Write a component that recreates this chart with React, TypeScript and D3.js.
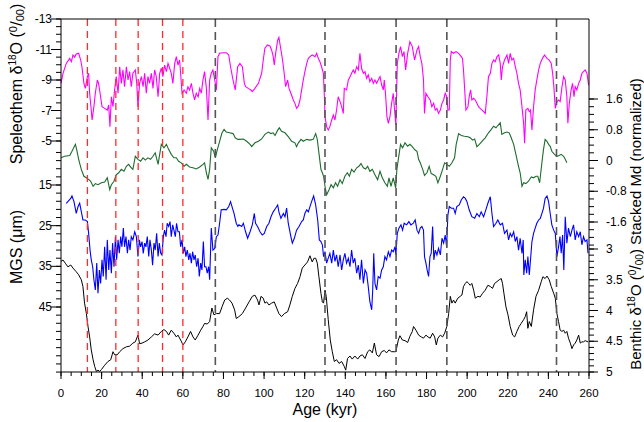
import React from 'react';
import * as d3 from 'd3';

// Age (kyr), value pairs
const speleothem: [number, number][] = [
  [0, -8.78], [1, -9.44], [2.6, -10.09], [4.3, -10.42], [5.1, -10.2], [5.9, -10.64], [6.7, -10.5], [7.5, -10.7], [8.7, -10.75],
  [9.7, -10.31], [10.3, -9.87], [11.3, -8.78], [12, -8.45], [13, -9.22], [13.6, -9.44], [14.1, -8.13], [14.9, -7.03],
  [15.3, -6.38], [16.2, -7.25], [16.9, -8.13], [17.9, -9.0], [18.5, -8.78], [19.5, -7.9], [20.2, -7.25], [21.5, -7.14],
  [22.8, -7.03], [23.5, -7.36], [24.1, -5.94], [24.8, -7.9], [25.6, -7.25], [26.4, -8.35], [27.2, -9.22], [28.1, -8.13],
  [28.9, -9.87], [29.7, -8.78], [30.5, -9.66], [31.3, -8.56], [32.2, -9.87], [33, -9.0], [33.8, -9.55], [34.6, -8.56],
  [35.4, -9.44], [36.6, -9.66], [37.3, -8.78], [37.9, -7.25], [38.7, -8.78], [39.6, -9.22], [40.4, -8.56], [41.2, -9.44],
  [42, -8.13], [42.8, -9.22], [43.6, -8.78], [44.5, -9.44], [45.3, -8.45], [46.1, -9.66], [46.9, -9.22], [47.8, -7.9],
  [48.6, -9.44], [49.4, -9.77], [50.2, -9.22], [51, -9.98], [51.9, -9.55], [52.7, -10.09], [53.5, -9.77], [54.3, -9.44],
  [55.1, -8.78], [56, -10.09], [56.8, -10.53], [57.6, -9.98], [58.4, -10.31], [58.9, -9.44], [59.6, -8.13], [60.6, -8.35],
  [61.7, -8.13], [62.5, -8.56], [63.3, -8.35], [64.2, -8.78], [65, -8.13], [65.8, -7.69], [66.6, -8.13], [67.5, -7.9],
  [68.3, -8.45], [69.1, -8.13], [69.9, -9.0], [70.7, -9.55], [71.6, -8.45], [72.4, -6.38], [73.2, -9.0], [74, -9.44],
  [74.8, -9.66], [75.7, -9.0], [76.5, -8.35], [77.3, -10.53], [78.1, -10.75], [79.8, -10.79], [81.4, -10.79], [82.6, -10.64],
  [83.5, -9.87], [84.7, -9.0], [85.8, -8.35], [87, -9.87], [88.1, -10.09], [89.3, -9.87], [90.3, -8.78], [90.9, -8.56],
  [92.2, -8.45], [93.5, -8.35], [94.2, -8.24], [95.5, -8.45], [97.2, -8.78], [98.8, -9.44], [99.6, -10.31], [100.4, -11.08],
  [101.6, -11.3], [102.9, -11.23], [103.7, -10.97], [104.5, -10.53], [105, -9.98], [105.7, -10.75], [106.7, -11.62],
  [107.3, -11.8], [108.3, -10.97], [109.1, -10.31], [109.9, -9.44], [110.6, -8.56], [111.6, -9.0], [112.3, -8.45],
  [113.2, -8.13], [114.4, -7.69], [115.2, -7.47], [116, -7.14], [116.9, -7.3], [117.7, -7.69], [118.5, -8.35], [119.3, -9.0],
  [120.1, -9.55], [121, -10.09], [121.8, -10.42], [122.6, -10.53], [123.7, -10.64], [125.1, -10.53], [125.9, -10.75],
  [126.7, -10.42], [127.5, -10.2], [128.3, -9.87], [129.2, -9.44], [129.7, -7.9], [130, -6.6], [130.8, -5.94], [131.6, -5.72],
  [132.4, -5.94], [133.3, -6.38], [134.1, -6.7], [134.9, -6.38], [135.7, -7.03], [136.5, -7.9], [137.4, -7.58], [138.2, -7.25],
  [139, -6.81], [139.5, -8.45], [140.6, -8.35], [141.5, -9.0], [142.3, -9.22], [143.1, -9.44], [143.9, -9.66], [144.7, -9.44],
  [145.6, -9.87], [146.4, -9.66], [147.2, -10.75], [148, -9.77], [148.9, -9.44], [149.7, -9.55], [150.5, -9.11], [151.3, -9.33],
  [152.1, -8.89], [153, -9.11], [153.8, -8.78], [154.6, -9.0], [155.4, -8.78], [156.2, -9.0], [157.1, -9.22], [157.9, -8.67],
  [158.7, -8.35], [159.2, -9.0], [159.9, -7.9], [160.5, -6.6], [161.2, -6.16], [162, -6.6], [162.8, -7.47], [163.6, -8.13],
  [164.4, -6.81], [164.9, -6.05], [165.6, -10.09], [166.4, -10.75], [167.2, -11.19], [168.1, -10.53], [168.9, -10.86],
  [169.7, -9.66], [170.7, -10.75], [171.8, -11.51], [173, -11.19], [174.1, -10.31], [175.3, -10.97], [176.1, -11.19],
  [176.9, -10.53], [177.7, -10.09], [178.5, -9.0], [179, -6.81], [179.7, -8.13], [180.7, -7.9], [181.8, -7.69], [182.6, -7.25],
  [183.5, -7.47], [184.3, -7.03], [185.1, -7.14], [185.9, -6.81], [186.8, -7.03], [187.6, -7.47], [188.4, -7.69], [189.2, -8.13],
  [190, -7.9], [190.5, -7.03], [191.2, -7.03], [191.7, -10.31], [192.2, -10.86], [193.3, -10.75], [194.5, -10.86],
  [195.8, -10.75], [197.1, -10.53], [197.7, -10.42], [198.2, -9.66], [198.7, -8.56], [199.4, -7.03], [200.4, -7.25],
  [201, -7.9], [201.7, -8.35], [202.3, -7.69], [203.2, -7.8], [204, -7.69], [204.8, -7.47], [205.6, -7.25], [206.4, -7.14],
  [207.3, -7.03], [208.1, -6.92], [208.9, -6.81], [209.7, -7.9], [210.5, -9.22], [211.4, -9.44], [212.2, -10.09], [213, -10.31],
  [213.8, -10.2], [214.7, -10.53], [215.5, -10.64], [216.3, -10.09], [216.8, -9.0], [217.4, -9.87], [218.4, -10.31],
  [219.6, -10.64], [220.4, -10.09], [221.2, -10.75], [222, -10.31], [222.9, -10.42], [223.7, -9.87], [224.5, -9.44],
  [225.3, -8.78], [226.1, -8.35], [227, -7.25], [227.8, -6.16], [228.3, -4.85], [228.9, -7.03], [229.9, -7.14], [230.6, -6.92],
  [231.2, -7.03], [231.9, -5.72], [232.7, -7.25], [233.5, -8.35], [234.3, -9.0], [235.2, -9.66], [236, -10.09], [237.1, -10.42],
  [238.1, -10.64], [239.3, -10.42], [240.4, -10.31], [241.4, -10.09], [242.1, -9.44], [242.7, -8.56], [243.4, -7.14],
  [244.2, -7.58], [245, -7.69], [245.8, -7.58], [246.7, -8.56], [247.5, -9.22], [248.3, -9.0], [249.1, -7.9], [249.6, -6.16],
  [250.3, -7.47], [251.2, -8.35], [251.9, -8.78], [252.6, -7.9], [253.2, -8.56], [254, -8.35], [254.9, -8.78], [255.7, -9.0],
  [256.5, -9.44], [257.3, -9.55], [258.1, -9.66], [259, -9.44], [259.8, -8.67],
];

const stackedMd: [number, number][] = [
  [0, 0.07], [1.8, 0.11], [4.3, 0.13], [5.4, 0.24], [7.1, 0.42], [7.7, 0.29], [8.7, 0.03], [10, -0.23], [11.3, -0.41],
  [12.5, -0.45], [13.6, -0.49], [14.6, -0.54], [15.8, -0.67], [16.9, -0.6], [18.2, -0.63], [19.9, -0.58], [21.5, -0.56],
  [22.8, -0.45], [24, -0.76], [24.8, -0.63], [26.1, -0.54], [27.2, -0.37], [28.4, -0.32], [29.7, -0.23], [31, -0.28],
  [32.2, -0.15], [33.3, -0.1], [34.3, -0.17], [35.4, -0.23], [36.6, 0.11], [37.9, 0.03], [39.2, -0.02], [40.4, 0.07],
  [41.5, 0.01], [42.8, 0.07], [44.1, 0.03], [45.3, 0.11], [46.4, 0.2], [47.8, -0.1], [48.6, 0.16], [49.4, 0.42], [50.7, 0.33],
  [51.9, 0.42], [53, 0.29], [54.3, 0.16], [55.6, 0.07], [56.8, 0.07], [57.9, -0.02], [59.2, -0.06], [60.6, -0.15],
  [61.7, -0.1], [63.3, -0.17], [65, -0.19], [66.6, -0.22], [68.3, -0.17], [69.9, -0.1], [70.7, -0.06], [71.6, -0.32],
  [72.4, -0.49], [73.2, -0.23], [74, 0.33], [75.2, 0.24], [76, 0.07], [77, 0.29], [78.1, 0.5], [79.3, 0.72], [80.3, 0.81],
  [81.4, 0.74], [83, 0.72], [84.7, 0.7], [85.8, 0.59], [87.1, 0.55], [88.1, 0.55], [89.8, 0.56], [91.4, 0.5], [93.1, 0.42],
  [93.9, 0.36], [95.5, 0.46], [97.2, 0.5], [98.8, 0.56], [100.4, 0.68], [102.1, 0.74], [103.4, 0.7], [104.5, 0.72],
  [105.4, 0.65], [106.7, 0.79], [107.5, 0.85], [108.6, 0.76], [110.3, 0.72], [111.9, 0.62], [113.6, 0.5], [115.2, 0.46],
  [116, 0.36], [116.9, 0.46], [118.2, 0.55], [119.3, 0.5], [121, 0.55], [122.6, 0.53], [124.2, 0.55], [125.4, 0.7],
  [126.2, 0.55], [127, 0.2], [128, -0.23], [128.7, -0.32], [129.3, -0.41], [130, -0.67], [130.8, -0.89], [132, -0.76],
  [133, -0.63], [134.1, -0.71], [135.2, -0.58], [136.2, -0.67], [137.4, -0.5], [138.5, -0.6], [139.8, -0.41], [141, -0.32],
  [142, -0.41], [143.1, -0.23], [144.3, -0.3], [145.6, -0.19], [146.7, -0.15], [147.7, -0.08], [148.9, -0.19], [150, -0.22],
  [151, -0.15], [152.1, -0.28], [153.3, -0.23], [154.6, -0.37], [155.9, -0.5], [157.1, -0.28], [158.2, -0.45], [159.5, -0.58],
  [160.7, -0.67], [161.5, -0.45], [162.5, -0.67], [163.6, -0.45], [164.8, -0.71], [165.4, -0.23], [166.1, 0.03], [167.2, 0.42],
  [168.2, 0.33], [169.4, 0.46], [170.7, 0.37], [171.8, 0.42], [173, 0.36], [174.2, 0.28], [175.3, 0.24], [176.1, 0.03],
  [176.9, -0.06], [178.1, -0.23], [179, -0.39], [180.2, -0.32], [181.3, -0.15], [182.3, -0.34], [183.5, -0.37], [184.6, -0.41],
  [185.6, -0.58], [186.8, -0.41], [187.9, -0.23], [188.9, -0.06], [190, -0.1], [191.2, -0.15], [192.5, -0.06], [193.8, 0.07],
  [194.6, 0.42], [195.8, 0.7], [197.1, 0.65], [198.7, 0.63], [200.4, 0.62], [201.5, 0.59], [202.7, 0.53], [203.7, 0.56],
  [204.8, 0.36], [206, 0.42], [207.3, 0.5], [208.9, 0.59], [210.5, 0.72], [211.9, 0.81], [213, 0.89], [214.2, 0.85],
  [215.1, 0.91], [216.3, 0.98], [217.1, 0.68], [218.4, 0.72], [219.6, 0.74], [220.7, 0.72], [221.7, 0.59], [222.9, 0.42],
  [224, 0.16], [225.3, -0.15], [226.1, -0.32], [227, -0.67], [227.8, -0.58], [228.9, -0.6], [230.2, -0.54], [231.6, -0.43],
  [232.7, -0.45], [233.9, -0.41], [234.8, -0.41], [235.7, -0.58], [236.8, -0.06], [237.6, 0.29], [238.4, 0.55], [239.3, 0.5],
  [240.1, 0.42], [240.9, 0.37], [241.7, 0.24], [243, 0.16], [244.2, 0.11], [245.3, 0.13], [246.3, 0.16], [247.5, 0.11],
  [248.3, 0.03], [249.1, -0.06],
];

const mgs: [number, number][] = [
  [2.6, 19.5], [3.8, 18.85], [4.8, 18.3], [5.4, 17.7], [6.4, 19.1], [7.5, 21.96], [8.4, 20.3], [9.2, 19.5], [10, 21.55],
  [10.8, 23.6], [12, 23.6], [13, 24], [13.6, 26.9], [14.3, 31], [14.9, 33.4], [15.6, 35.1], [16.2, 38.3], [16.9, 40.8],
  [17.6, 34.2], [18.2, 41.6], [18.9, 35.9], [19.5, 39.2], [20.2, 33.4], [20.8, 37.5], [21.5, 30.2], [22.2, 38.3], [22.8, 28.5],
  [23.5, 35.9], [24.1, 31], [24.8, 36.7], [25.4, 29.3], [26.1, 35.1], [26.8, 27.7], [27.4, 33.4], [28.1, 28.5], [28.7, 31.8],
  [29.4, 27.7], [30, 30.2], [30.7, 25.6], [31.3, 30.2], [32, 27.7], [32.7, 31.8], [33.3, 28.5], [34, 31], [34.6, 27.7],
  [35.4, 28.5], [36.3, 26.5], [37.1, 27.7], [37.9, 32.6], [38.6, 28.5], [39.2, 30.2], [39.9, 28.9], [40.5, 31.8], [41.2, 29.3],
  [41.8, 30.2], [42.5, 27.7], [43.2, 32.6], [43.8, 28.5], [44.5, 31], [45.1, 34.7], [45.8, 29.3], [46.4, 31], [47.1, 26.9],
  [47.8, 32.6], [48.4, 29.3], [49.1, 31.8], [49.7, 32.2], [50.4, 27.7], [51, 26.1], [51.7, 27.7], [52.3, 24.4], [53, 25.2],
  [53.7, 24], [54.3, 27.7], [55, 24.8], [55.6, 26.1], [56.3, 27.7], [56.9, 24.4], [57.6, 26.5], [58.3, 26.5], [58.9, 30.2],
  [59.6, 28.5], [60.2, 31.8], [60.9, 30.2], [61.5, 32.6], [62.2, 31], [62.9, 33.4], [63.5, 31.8], [64.2, 34.2], [64.8, 31.4],
  [65.5, 33.4], [66.1, 32.2], [66.8, 35.1], [67.5, 33], [68.1, 37.5], [68.8, 34.2], [69.4, 35.9], [70.1, 28.9], [70.7, 35.1],
  [71.4, 35.1], [72, 36.7], [72.7, 35.1], [73.2, 38.3], [74, 25.6], [74.8, 31], [75.7, 30.6], [76.5, 27.7], [77.3, 27.3],
  [78.1, 24.4], [78.9, 21.1], [80.3, 21], [81.4, 21.1], [82.6, 20.3], [83.5, 19.1], [84.2, 20.3], [85.2, 22], [86.3, 24.4],
  [87.1, 25.2], [87.6, 24.8], [89, 25.2], [89.8, 24.4], [90.9, 26.5], [91.9, 28.1], [93.1, 26.5], [94.2, 24.8], [95.2, 22],
  [95.8, 24.4], [96.8, 25.2], [98, 26.5], [99.1, 27.3], [100.1, 26.9], [101.3, 25.2], [102.4, 24.4], [103.4, 22.8],
  [104.5, 21.6], [105.7, 20.7], [106.7, 19.9], [107.3, 21.6], [108.3, 23.2], [109.5, 22], [110.3, 22.8], [111.1, 20.7],
  [111.9, 24.4], [113.2, 27.7], [113.9, 29.3], [114.9, 28.1], [116, 26.1], [117.2, 25.2], [118.5, 24], [119.3, 23.6],
  [120.1, 22], [121, 21.1], [121.8, 21.6], [122.6, 20.3], [123.4, 19.1], [124.4, 17.7], [125.4, 19.9], [126.4, 23.6],
  [127.2, 28.5], [128, 28.9], [128.7, 29.7], [129.3, 32.6], [130, 31.4], [130.8, 34.2], [131.6, 33], [132.4, 31.8],
  [133.3, 34.2], [134.1, 31], [134.9, 33.8], [135.7, 32.2], [136.5, 35.1], [137.4, 32.2], [138.2, 35.9], [139, 33.4],
  [139.8, 31.8], [140.6, 34.2], [141.5, 33], [142.3, 35.1], [143.1, 31], [143.9, 34.2], [144.7, 33], [145.6, 36.7],
  [146.4, 34.7], [147.2, 38.3], [148, 33.4], [148.9, 39.2], [149.7, 35.9], [150.5, 36.7], [151.3, 40], [152.1, 43.7],
  [153, 45.7], [153.5, 40.8], [154, 31.8], [154.6, 39.2], [155.4, 40.8], [156.2, 37.5], [157.1, 37.9], [157.9, 35.9],
  [158.7, 35.1], [159.5, 32.6], [160.3, 33.4], [161.2, 31.4], [162, 32.6], [162.8, 31], [163.6, 31.4], [164.5, 30.2],
  [164.9, 32.2], [165.6, 26.9], [166.4, 25.6], [167.4, 24.8], [168.2, 26.1], [169, 24.4], [170.2, 24.8], [171.3, 24],
  [172.3, 24.8], [173.5, 24.4], [174.4, 23.6], [175.3, 26.1], [176.1, 26.9], [176.9, 25.6], [177.7, 25.2], [178.5, 26.1],
  [179, 32.6], [179.7, 34.2], [180.3, 35.9], [181, 37.5], [181.7, 32.6], [182.3, 31.8], [183, 25.2], [183.6, 33.4], [184.3, 31],
  [185.1, 32.2], [185.9, 30.6], [186.8, 32.2], [187.6, 28.1], [188.4, 29.3], [189.2, 27.3], [189.9, 30.2], [190.5, 22.4],
  [191.2, 20.3], [192.2, 20.7], [193.3, 20.7], [194.1, 22], [194.9, 20.3], [196.1, 19.9], [197.1, 18.7], [198.2, 17.9],
  [199.1, 18.3], [199.9, 19.1], [201, 21.1], [202.3, 22.8], [203.7, 23.2], [204.8, 22], [206, 22.8], [206.9, 21.6],
  [208.1, 22.8], [209.2, 21.1], [210.2, 19.5], [211.4, 17.9], [212.2, 22], [213, 25.2], [214.2, 24.4], [215.1, 23.6],
  [216.3, 24.8], [217.4, 24.4], [218.4, 26.9], [219.6, 26.1], [220.4, 28.5], [221.2, 26.9], [222, 27.7], [222.9, 26.5],
  [223.7, 28.9], [224.5, 27.7], [225.3, 31], [226.1, 28.1], [227, 31.8], [227.6, 28.5], [227.9, 37.1], [228.6, 33.4],
  [229.3, 36.7], [229.9, 32.6], [230.6, 37.1], [231.2, 33.4], [231.9, 28.9], [232.7, 26.9], [233.5, 25.6], [234.3, 24.4],
  [235.2, 23.6], [236, 23.2], [236.8, 22], [237.6, 20.7], [238.4, 18.3], [239.3, 17.7], [240.1, 19.1], [240.9, 22],
  [241.7, 24.8], [242.6, 26.1], [243.4, 26.9], [244.2, 32.6], [245, 30.2], [245.7, 27.7], [246.3, 31.8], [247, 27.3],
  [247.6, 35.9], [248.3, 22.8], [249.1, 29.3], [249.9, 25.6], [250.8, 27.7], [251.6, 26.1], [252.4, 24.8], [253.2, 28.5],
  [254, 26.5], [254.9, 27.7], [255.7, 26.5], [256.5, 29.7], [257.3, 27.7], [258.1, 28.9], [259, 28.5], [259.5, 31.8],
];

const benthic: [number, number][] = [
  [0, 3.2], [1, 3.18], [2.1, 3.23], [3.4, 3.29], [4.8, 3.26], [5.9, 3.31], [7.5, 3.37], [8.7, 3.42], [10, 3.5], [10.8, 3.61],
  [11.6, 3.88], [12.5, 4.05], [13.3, 4.26], [14.1, 4.43], [14.9, 4.64], [15.8, 4.8], [16.6, 4.91], [17.4, 4.99], [18.2, 4.97],
  [19, 4.99], [19.9, 4.96], [21.5, 4.89], [23.1, 4.83], [24.5, 4.8], [25.6, 4.67], [26.4, 4.72], [27.7, 4.72], [28.9, 4.67],
  [30.5, 4.62], [32.2, 4.59], [33.8, 4.58], [35.4, 4.53], [36.6, 4.51], [37.9, 4.4], [38.7, 4.54], [39.9, 4.53], [41.2, 4.51],
  [42.8, 4.48], [44.5, 4.43], [46.1, 4.38], [47.8, 4.4], [49.4, 4.34], [50.7, 4.31], [51.9, 4.34], [53, 4.4], [54.3, 4.32],
  [55.6, 4.37], [56.8, 4.43], [57.6, 4.4], [58.9, 4.48], [60.1, 4.56], [61.2, 4.51], [62.5, 4.43], [63.8, 4.34], [65, 4.43],
  [66.1, 4.48], [67.5, 4.4], [68.8, 4.32], [69.9, 4.26], [70.7, 4.21], [72, 4.22], [73.2, 4.18], [74.3, 3.96], [75.3, 4.07],
  [76.5, 4.05], [78.1, 4.05], [79.3, 3.94], [80.6, 3.83], [81.9, 3.8], [83, 3.83], [84.2, 3.88], [85.5, 3.99], [86.3, 4.13],
  [87.6, 4.1], [89.3, 4.05], [90.9, 3.96], [92.6, 3.86], [94.2, 3.77], [95.5, 3.75], [96.8, 3.83], [97.5, 3.91], [98.5, 3.77],
  [99.6, 3.8], [100.4, 3.88], [101.3, 3.86], [102.4, 3.91], [103.7, 3.88], [105, 3.86], [106.2, 3.96], [107.3, 4.05],
  [108.6, 4.1], [110, 4.05], [111.6, 4.02], [112.7, 3.91], [113.9, 3.77], [115.2, 3.64], [116.5, 3.56], [117.7, 3.45],
  [118.8, 3.31], [120.1, 3.26], [121.4, 3.21], [122.6, 3.11], [123.7, 3.21], [124.6, 3.15], [125.4, 3.15], [126.2, 3.23],
  [127, 3.45], [128, 3.72], [128.7, 3.86], [129.3, 3.88], [130, 3.67], [130.6, 3.77], [131.6, 4.15], [132.6, 4.48],
  [133.6, 4.67], [134.6, 4.83], [135.7, 4.8], [136.9, 4.86], [138.2, 4.83], [139.5, 4.91], [140.2, 4.97], [141.1, 4.78],
  [142.3, 4.74], [143.4, 4.79], [144.7, 4.74], [146.1, 4.79], [147.2, 4.74], [148.4, 4.72], [149.7, 4.78], [151, 4.67],
  [152.1, 4.64], [153.3, 4.69], [154.3, 4.53], [155.4, 4.72], [156.6, 4.75], [157.9, 4.67], [159.2, 4.65], [160.3, 4.69],
  [161.5, 4.64], [162.8, 4.67], [164.1, 4.67], [164.9, 4.67], [166.1, 4.48], [166.9, 4.41], [168.1, 4.48], [169.4, 4.49],
  [170.7, 4.52], [171.8, 4.42], [173, 4.34], [173.6, 4.26], [174.8, 4.32], [176.1, 4.4], [177.4, 4.43], [178.5, 4.45],
  [179.7, 4.4], [180.7, 4.43], [181.8, 4.45], [183, 4.37], [184, 4.43], [184.8, 4.56], [185.6, 4.45], [186.8, 4.4],
  [187.9, 4.43], [188.9, 4.37], [190, 4.26], [190.9, 4.05], [191.7, 3.77], [192.5, 3.88], [193.3, 3.83], [194.1, 3.88],
  [195.4, 3.8], [196.6, 3.77], [197.4, 3.75], [198.2, 3.61], [199.1, 3.56], [199.9, 3.53], [200.7, 3.56], [201.5, 3.59],
  [202.3, 3.56], [203.2, 3.67], [204, 3.8], [205.3, 3.77], [206.4, 3.78], [207.6, 3.72], [208.9, 3.67], [210.2, 3.59],
  [211.4, 3.61], [212.5, 3.64], [213.5, 3.56], [214.7, 3.53], [215.8, 3.5], [216.8, 3.48], [217.4, 3.56], [218.1, 3.72],
  [219.1, 3.94], [220.1, 4.07], [221.2, 4.26], [222.4, 4.4], [223.4, 4.43], [224.5, 4.34], [225.6, 4.26], [226.6, 4.21],
  [227.8, 4.15], [228.6, 4.1], [229.3, 4.02], [229.9, 4.29], [230.6, 4.18], [231.6, 4.26], [232.7, 3.99], [233.9, 3.77],
  [235.2, 3.67], [236.5, 3.53], [237.3, 3.45], [238.4, 3.48], [239.3, 3.44], [240.4, 3.5], [241.4, 3.61], [242.6, 3.72],
  [243.4, 3.8], [244.2, 4.05], [245, 4.18], [245.8, 4.32], [246.7, 4.34], [247.5, 4.32], [248.3, 4.37], [249.1, 4.34],
  [249.9, 4.45], [250.8, 4.53], [251.6, 4.62], [252.4, 4.56], [253.2, 4.53], [254, 4.48], [254.9, 4.4], [255.7, 4.53],
  [256.5, 4.51], [257.3, 4.51], [258.1, 4.49], [259.5, 4.51],
];

// event lines (kyr)
const blackEvents = [76, 130, 165, 190, 244];
const redEvents = [13, 27, 38, 50, 60];

// tick values
const ageTicks = d3.range(0, 261, 20);
const ageMinor = d3.range(0, 261, 5);
const speleoTicks = [-13, -11, -9, -7, -5];
const speleoMinor = d3.range(-13, -4.9, 0.5);
const mgsTicks = [15, 25, 35, 45];
const mgsMinor = d3.range(7, 61.5, 2);
const mdTicks = [1.6, 0.8, 0, -0.8, -1.6];
const mdMinor = d3.range(-11, 9).map(i => i * 0.2);
const benthicTicks = [3, 3.5, 4, 4.5, 5];
const benthicMinor = d3.range(30, 51).map(i => i / 10);

const W = 644;
const H = 422;
const L = 61, R = 589, T = 19, B = 372;

const fmt = (v: number) => (Math.round(v * 10) / 10).toString();

export default function App() {
  const x = d3.scaleLinear().domain([0, 260]).range([L, R]);
  const ySp = d3.scaleLinear().domain([-13, -5]).range([T, 141]);
  const yMd = d3.scaleLinear().domain([1.6, -1.6]).range([99, 222]);
  const yMgs = d3.scaleLinear().domain([15, 45]).range([185, 307]);
  const yBen = d3.scaleLinear().domain([3, 5]).range([249, B]);

  const mk = (ys: d3.ScaleLinear<number, number>) =>
    d3.line<[number, number]>().x(d => x(d[0])).y(d => ys(d[1]));

  const font = '"Liberation Sans", Arial, Helvetica, sans-serif';

  const leftTicks = (ys: d3.ScaleLinear<number, number>, minor: number[], major: number[]) => (
    <g>
      {minor.map((v, i) => (
        <line key={'m' + i} x1={L - 5} x2={L} y1={ys(v)} y2={ys(v)} stroke="#000" strokeWidth={1} />
      ))}
      {major.map((v, i) => (
        <g key={'M' + i}>
          <line x1={L - 10} x2={L} y1={ys(v)} y2={ys(v)} stroke="#000" strokeWidth={1} />
          <text x={L - 9} y={ys(v)} textAnchor="end" dominantBaseline="central" fontSize={12}>{fmt(v)}</text>
        </g>
      ))}
    </g>
  );

  const rightTicks = (ys: d3.ScaleLinear<number, number>, minor: number[], major: number[]) => (
    <g>
      {minor.map((v, i) => (
        <line key={'m' + i} x1={R} x2={R + 5} y1={ys(v)} y2={ys(v)} stroke="#000" strokeWidth={1} />
      ))}
      {major.map((v, i) => (
        <g key={'M' + i}>
          <line x1={R} x2={R + 9} y1={ys(v)} y2={ys(v)} stroke="#000" strokeWidth={1} />
          <text x={R + 17} y={ys(v)} textAnchor="start" dominantBaseline="central" fontSize={12}>{fmt(v)}</text>
        </g>
      ))}
    </g>
  );

  return (
    <div style={{ position: 'absolute', left: 0, top: 0 }}>
      <svg width={W} height={H} style={{ display: 'block', fontFamily: font }}>
        <rect width={W} height={H} fill="#fff" />

        {/* data */}
        <path d={mk(ySp)(speleothem) || ''} fill="none" stroke="#ff00ff" strokeWidth={1.1} />
        <path d={mk(yMd)(stackedMd) || ''} fill="none" stroke="#1e6b2e" strokeWidth={1.1} />
        <path d={mk(yMgs)(mgs) || ''} fill="none" stroke="#0000ff" strokeWidth={1.1} />
        <path d={mk(yBen)(benthic) || ''} fill="none" stroke="#000" strokeWidth={1} />

        {/* event lines */}
        {blackEvents.map(a => (
          <line key={'b' + a} x1={x(a)} x2={x(a)} y1={T} y2={B} stroke="#555" strokeWidth={1.6} strokeDasharray="8,5" />
        ))}
        {redEvents.map(a => (
          <line key={'r' + a} x1={x(a)} x2={x(a)} y1={T} y2={B} stroke="#ff2a2a" strokeWidth={1.3} strokeDasharray="7,5" />
        ))}

        {/* frame */}
        <line x1={L} x2={R} y1={T} y2={T} stroke="#000" />
        <line x1={L} x2={L} y1={T} y2={B} stroke="#000" />
        <line x1={R} x2={R} y1={T} y2={B} stroke="#000" />
        <line x1={L} x2={R} y1={B} y2={B} stroke="#000" />

        {/* bottom axis */}
        {ageMinor.map(a => (
          <line key={'am' + a} x1={x(a)} x2={x(a)} y1={B} y2={B + 4} stroke="#000" />
        ))}
        {ageTicks.map(a => (
          <g key={'at' + a}>
            <line x1={x(a)} x2={x(a)} y1={B} y2={B + 7} stroke="#000" />
            <text x={x(a)} y={397} textAnchor="middle" fontSize={11.5}>{a}</text>
          </g>
        ))}
        <text x={325} y={415} textAnchor="middle" fontSize={16}>Age (kyr)</text>

        {/* left axes */}
        {leftTicks(ySp, speleoMinor, speleoTicks)}
        {leftTicks(yMgs, mgsMinor, mgsTicks)}
        <text transform="translate(22,84) rotate(-90)" textAnchor="middle" fontSize={16}>
          Speleothem δ<tspan fontSize={10} dy={-6}>18</tspan><tspan dy={6}>O (</tspan>
          <tspan fontSize={11} dy={-5}>0</tspan><tspan fontSize={17} dy={5}>/</tspan><tspan fontSize={11} dy={2}>00</tspan><tspan dy={-2}>)</tspan>
        </text>
        <text transform="translate(22,247) rotate(-90)" textAnchor="middle" fontSize={16}>MGS (μm)</text>

        {/* right axes */}
        {rightTicks(yMd, mdMinor, mdTicks)}
        {rightTicks(yBen, benthicMinor, benthicTicks)}
        <text transform="translate(641,224) rotate(-90)" textAnchor="middle" fontSize={15}>
          Benthic δ<tspan fontSize={10} dy={-6}>18</tspan><tspan dy={6}>O (</tspan>
          <tspan fontSize={10} dy={-5}>0</tspan><tspan fontSize={16} dy={5}>/</tspan><tspan fontSize={10} dy={2}>00</tspan><tspan dy={-2}>)  Stacked Md (normalized)</tspan>
        </text>
      </svg>
    </div>
  );
}
